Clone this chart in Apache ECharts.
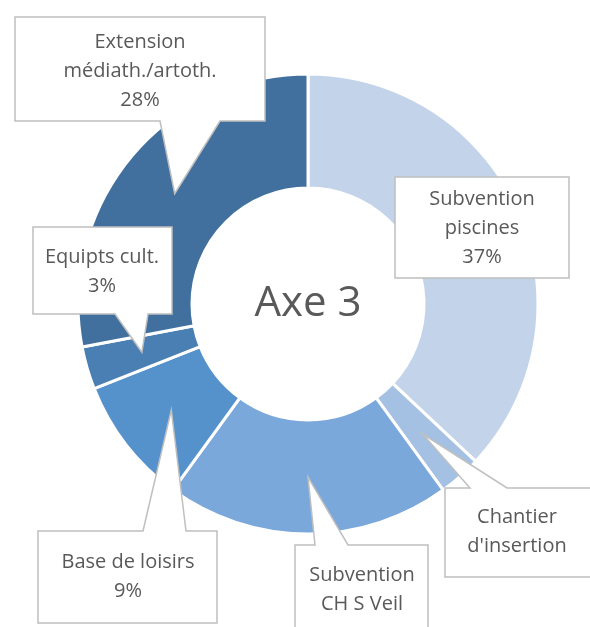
<!DOCTYPE html>
<html>
<head>
<meta charset="utf-8">
<title>Axe 3</title>
<script src="https://cdn.jsdelivr.net/npm/echarts@6/dist/echarts.min.js"></script>
<style>
  html, body { margin: 0; padding: 0; background: #fff; }
  #chart { width: 590px; height: 627px; }
</style>
</head>
<body>
<div id="chart"></div>
<script>
  // données
  var categories = ['Subvention piscines', "Chantier d'insertion", 'Subvention CH S Veil', 'Base de loisirs', 'Equipts cult.', 'Extension médiath./artoth.'];
  var values = [37, 3, 20, 9, 3, 28];
  // texte affiché dans chaque bulle (coupé comme dans l'original)
  var labelText = [['Subvention', 'piscines'], ['Chantier', "d'insertion"], ['Subvention', 'CH S Veil'], ['Base de loisirs'], ['Equipts cult.'], ['Extension', 'médiath./artoth.']];
  var showPercent = [true, false, false, true, true, true];
  var centerTitle = 'Axe 3';

  var colors = ['#C3D4EA', '#A4C1E4', '#7BA8DA', '#5592CC', '#4A7FB4', '#41709F'];

  // mise en page
  var cx = 308, cy = 304, rIn = 116, rOut = 230;
  // bulles : cadre [x0, y0, x1, y1], côté de la pointe, base de la pointe, centre du texte
  var callouts = [
    { box: [395, 177, 569, 278], side: null, tx: 482, ty: 228 },
    { box: [445, 488, 600, 577], side: 'top', base: [470, 507], tx: 517, ty: 532 },
    { box: [295, 545, 428, 640], side: 'top', base: [315, 348], tx: 362, ty: 590 },
    { box: [38, 531, 217, 623], side: 'top', base: [143, 186], tx: 128, ty: 577 },
    { box: [33, 227, 172, 314], side: 'bottom', base: [115, 148], tx: 102, ty: 272 },
    { box: [15, 17, 265, 121], side: 'bottom', base: [160, 220], tx: 140, ty: 71 }
  ];

  var total = values.reduce(function (a, b) { return a + b }, 0);

  // angle médian de chaque part (sens horaire depuis le haut)
  var midAngles = [];
  var acc = 0;
  values.forEach(function (v) {
    var a = v / total * 360;
    midAngles.push(acc + a / 2);
    acc += a;
  });

  var graphics = [];
  callouts.forEach(function (c, i) {
    var b = c.box;
    var pts;
    if (c.side) {
      var rad = midAngles[i] * Math.PI / 180;
      var rm = (rIn + rOut) / 2;
      var tip = [cx + rm * Math.sin(rad), cy - rm * Math.cos(rad)];
      if (c.side === 'top') {
        pts = [[b[0], b[1]], [c.base[0], b[1]], tip, [c.base[1], b[1]], [b[2], b[1]], [b[2], b[3]], [b[0], b[3]]];
      } else {
        pts = [[b[0], b[1]], [b[2], b[1]], [b[2], b[3]], [c.base[1], b[3]], tip, [c.base[0], b[3]], [b[0], b[3]]];
      }
    } else {
      pts = [[b[0], b[1]], [b[2], b[1]], [b[2], b[3]], [b[0], b[3]]];
    }
    var lines = labelText[i].slice();
    if (showPercent[i]) lines.push(Math.round(values[i] / total * 100) + '%');
    graphics.push({
      type: 'polygon',
      z: 100,
      shape: { points: pts },
      style: { fill: '#fff', stroke: '#BFBFBF', lineWidth: 1.5 }
    });
    graphics.push({
      type: 'text',
      z: 101,
      x: c.tx,
      y: c.ty,
      style: {
        text: lines.join('\n'),
        fill: '#595959',
        font: '20px "Open Sans", sans-serif',
        lineHeight: 29,
        align: 'center',
        verticalAlign: 'middle'
      }
    });
  });

  graphics.push({
    type: 'text',
    z: 101,
    x: cx,
    y: cy,
    style: {
      text: centerTitle,
      fill: '#595959',
      font: '42px "Open Sans", sans-serif',
      align: 'center',
      verticalAlign: 'middle'
    }
  });

  var chart = echarts.init(document.getElementById('chart'));
  chart.setOption({
    animation: false,
    backgroundColor: '#fff',
    series: [
      {
        type: 'pie',
        center: [cx, cy],
        radius: [rIn, rOut],
        startAngle: 90,
        clockwise: true,
        avoidLabelOverlap: false,
        silent: true,
        label: { show: false },
        labelLine: { show: false },
        itemStyle: { borderColor: '#fff', borderWidth: 3 },
        data: categories.map(function (name, i) {
          return { name: name, value: values[i], itemStyle: { color: colors[i] } };
        })
      }
    ],
    graphic: graphics
  });
</script>
</body>
</html>
